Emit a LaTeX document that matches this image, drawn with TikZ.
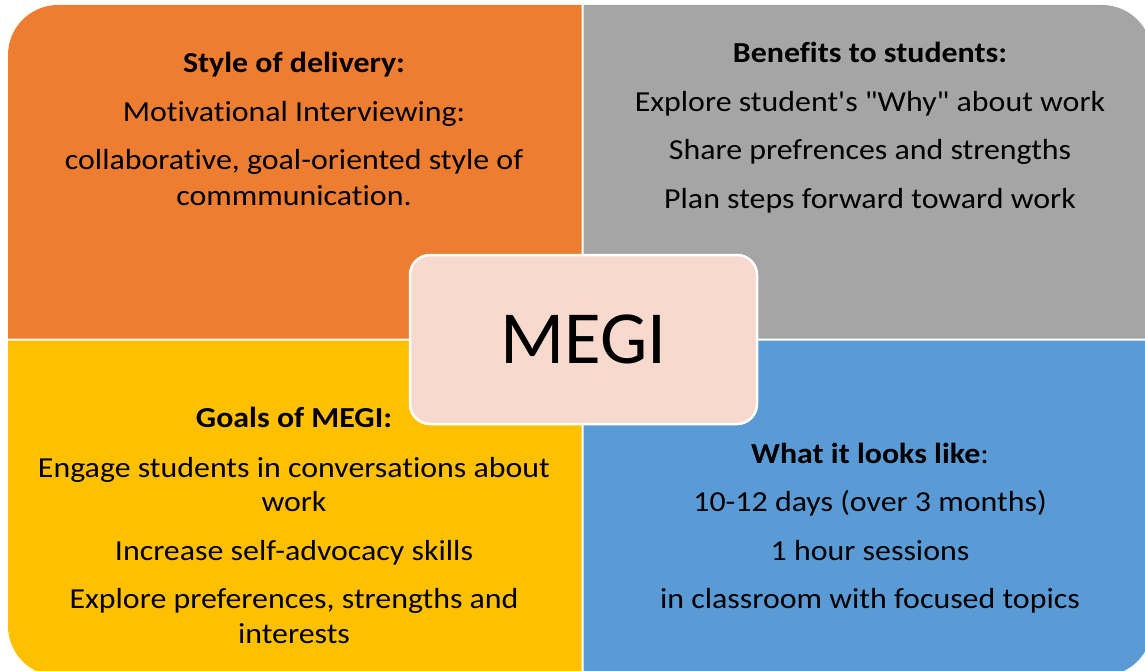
\documentclass[tikz,border=0pt]{standalone}
\usepackage{fontspec}
\newfontfamily\bodyfont{Carlito}[FakeStretch=1.1, RawFeature={-liga;-clig;-calt;-dlig}]
\newfontfamily\megifont{Carlito}
\usetikzlibrary{positioning}

\definecolor{deliveryorange}{HTML}{ED7D31}
\definecolor{benefitgray}{HTML}{A5A5A5}
\definecolor{goalyellow}{HTML}{FFC000}
\definecolor{looksblue}{HTML}{5B9BD5}
\definecolor{megipink}{HTML}{F8D9CE}

\begin{document}
\begin{tikzpicture}[
    x=1pt, y=-1pt,
    quad/.style={rounded corners=50pt},
    line/.style={anchor=base, inner sep=0pt, font=\bodyfont\fontsize{29}{35}\selectfont},
    head/.style={line, font=\bodyfont\bfseries\fontsize{29}{35}\selectfont},
    megibox/.style={draw=white, line width=2.5pt, fill=megipink, rounded corners=20pt,
        minimum width=347pt, minimum height=169pt, inner sep=0pt,
        font=\megifont\fontsize{75}{80}\selectfont}
]
    \useasboundingbox (0,0) rectangle (1145,671);

    % four quarters
    \begin{scope}
        \clip (0,0) rectangle (1145,671);
        \fill[deliveryorange] (581.5,338.5) -- (8,338.5) [quad] -- (8,5) [sharp corners] -- (581.5,5) -- cycle;
        \fill[benefitgray] (583.5,5) [quad] -- (1152,5) [sharp corners] -- (1152,338.5) -- (583.5,338.5) -- cycle;
        \fill[goalyellow] (8,340.5) [quad] -- (8,676) [sharp corners] -- (581.5,676) -- (581.5,340.5) -- cycle;
        \fill[looksblue] (583.5,340.5) -- (1152,340.5) [quad] -- (1152,676) [sharp corners] -- (583.5,676) -- cycle;
    \end{scope}

    % style of delivery
    \node[head] (del0) at (294,73) {Style of delivery:};
    \node[line] (del1) at (294,122) {Motivational Interviewing:};
    \node[line] (del2) at (294,170) {collaborative, goal-oriented style of};
    \node[line] (del3) at (294,205) {commmunication.};

    % benefits to students
    \node[head] (ben0) at (870,63) {Benefits to students:};
    \node[line] (ben1) at (870,112) {Explore student's "Why" about work};
    \node[line] (ben2) at (870,160) {Share prefrences and strengths};
    \node[line] (ben3) at (870,208) {Plan steps forward toward work};

    % goals of MEGI
    \node[head] (goal0) at (294,427) {Goals of MEGI:};
    \node[line] (goal1) at (294,477) {Engage students in conversations about};
    \node[line] (goal2) at (294,511) {work};
    \node[line] (goal3) at (294,560) {Increase self-advocacy skills};
    \node[line] (goal4) at (294,608) {Explore preferences, strengths and};
    \node[line] (goal5) at (294,643) {interests};

    % what it looks like
    \node[line] (look0) at (870,463) {\textbf{What it looks like}:};
    \node[line] (look1) at (870,511) {10-12 days (over 3 months)};
    \node[line] (look2) at (870,560) {1 hour sessions};
    \node[line] (look3) at (870,608) {in classroom with focused topics};

    % centre
    \node[megibox] (megi) at (583.5,339.5) {MEGI};

\end{tikzpicture}
\end{document}
